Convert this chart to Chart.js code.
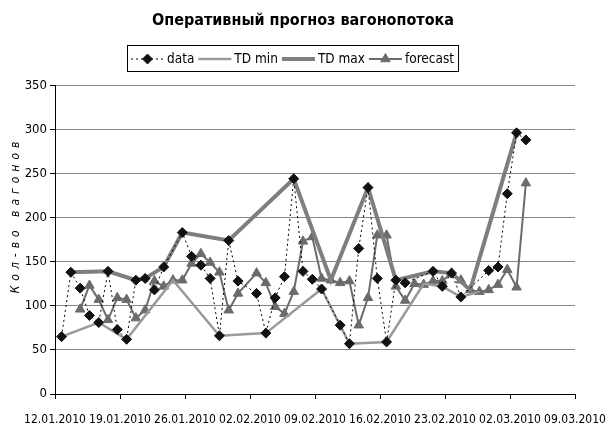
<!DOCTYPE html>
<html>
<head>
<meta charset="utf-8">
<script src="https://cdn.jsdelivr.net/npm/chart.js@4"></script>
<style>
  body { margin: 0; background: #fff; }
  #wrap { width: 606px; height: 432px; }
</style>
</head>
<body>
<div id="wrap"><canvas id="chart" width="606" height="432"></canvas></div>
<script>
// days counted from 12.01.2010, readings taken late in the day (~17:00)
const START = new Date(2010, 0, 12);
const TIME_OF_DAY = 17 / 24;

const dataDays = [0,1,2,3,4,5,6,7,8,9,10,11,13,14,15,16,17,18,19,21,22,23,24,25,26,27,28,30,31,32,33,34,35,36,37,40,41,42,43,46,47,48,49,50];
const dataValues = [65,138,120,89,81,139,73,62,129,131,118,144,183,156,146,131,66,174,128,114,69,109,133,244,139,130,119,78,57,165,234,131,59,129,126,139,122,137,110,140,144,227,296,288];

const minDays = [0,4,7,12,17,22,28,31,35,39,41,43,45];
const minValues = [65,81,62,129,66,69,119,57,59,125,122,110,116];

const maxDays = [1,5,8,9,11,13,18,25,29,33,36,40,42,44,49];
const maxValues = [138,139,129,131,144,183,174,244,129,234,129,139,137,118,296];

const forecastDays = [2,3,4,5,6,7,8,9,10,11,12,13,14,15,16,17,18,19,21,22,23,24,25,26,27,28,29,30,31,32,33,34,35,36,37,38,39,40,41,42,43,44,45,46,47,48,49,50];
const forecastValues = [96,123,107,84,109,107,86,95,128,122,129,129,148,159,149,138,95,114,137,126,99,91,116,173,178,131,129,126,128,78,109,180,180,122,106,125,124,128,128,137,129,118,116,118,124,141,121,239];

const seriesNames = ["data", "TD min", "TD max", "forecast"];
const xMin = 0, xMax = 56, xStep = 7;
const yMin = 0, yMax = 350, yStep = 50;

const FONT = "'DejaVu Sans Condensed', 'Liberation Sans Narrow', 'Arial Narrow', sans-serif";

function points(days, values) {
    return days.map((d, i) => ({ x: d + TIME_OF_DAY, y: values[i] }));
}

function fmtDate(day) {
    const d = new Date(START.getTime() + day * 86400000);
    const dd = String(d.getDate()).padStart(2, "0");
    const mm = String(d.getMonth() + 1).padStart(2, "0");
    return dd + "." + mm + "." + d.getFullYear();
}

// legend in a framed box under the title, like the original
const boxLegend = {
    id: "boxLegend",
    afterDraw(chart) {
        const ctx = chart.ctx;
        const sets = chart.data.datasets;
        ctx.save();
        ctx.font = "13.5px " + FONT;
        ctx.textBaseline = "middle";
        const sample = 33, gap = 3, after = 4;
        let total = 4;
        sets.forEach(s => { total += sample + gap + ctx.measureText(s.label).width + after; });
        const left = 127, top = 45, h = 26;
        ctx.strokeStyle = "#000";
        ctx.lineWidth = 1;
        ctx.strokeRect(left + 0.5, top + 0.5, total, h);
        let x = left + 4;
        const cy = top + h / 2 + 1;
        sets.forEach(s => {
            ctx.strokeStyle = s.borderColor;
            ctx.lineWidth = s.borderWidth;
            ctx.setLineDash(s.borderDash || []);
            ctx.beginPath();
            ctx.moveTo(x, cy);
            ctx.lineTo(x + sample, cy);
            ctx.stroke();
            ctx.setLineDash([]);
            if (s.pointStyle && s.pointRadius > 0) {
                ctx.fillStyle = s.pointBackgroundColor;
                ctx.strokeStyle = s.pointBorderColor;
                ctx.lineWidth = 1;
                Chart.helpers.drawPoint(ctx, {
                    pointStyle: s.pointStyle,
                    radius: s.pointRadius,
                    borderWidth: 1
                }, x + sample / 2, cy);
            }
            x += sample + gap;
            ctx.fillStyle = "#000";
            ctx.fillText(s.label, x, cy);
            x += ctx.measureText(s.label).width + after;
        });
        ctx.restore();
    }
};

// rotated, spaced-out axis caption
const yCaption = {
    id: "yCaption",
    afterDraw(chart) {
        const ctx = chart.ctx;
        ctx.save();
        ctx.translate(16, 215);
        ctx.rotate(-Math.PI / 2);
        ctx.font = "italic 12px 'DejaVu Sans Condensed', 'Liberation Sans', sans-serif";
        ctx.letterSpacing = "5px";
        ctx.textAlign = "center";
        ctx.textBaseline = "middle";
        ctx.fillStyle = "#000";
        ctx.fillText("Кол-во вагонов", 0, 0);
        ctx.restore();
    }
};

new Chart(document.getElementById("chart"), {
    type: "line",
    data: {
        datasets: [
            {
                label: seriesNames[0],
                data: points(dataDays, dataValues),
                borderColor: "#000",
                borderWidth: 1,
                borderDash: [2, 3],
                pointStyle: "rectRot",
                pointRadius: 5,
                pointBackgroundColor: "#111",
                pointBorderColor: "#111",
                pointBorderWidth: 1
            },
            {
                label: seriesNames[1],
                data: points(minDays, minValues),
                borderColor: "#9a9a9a",
                borderWidth: 2.5,
                pointRadius: 0
            },
            {
                label: seriesNames[2],
                data: points(maxDays, maxValues),
                borderColor: "#7e7e7e",
                borderWidth: 4,
                pointRadius: 0
            },
            {
                label: seriesNames[3],
                data: points(forecastDays, forecastValues),
                borderColor: "#6b6b6b",
                borderWidth: 2,
                pointStyle: "triangle",
                pointRadius: 5.5,
                pointBackgroundColor: "#6b6b6b",
                pointBorderColor: "#6b6b6b",
                pointBorderWidth: 1
            }
        ]
    },
    options: {
        responsive: false,
        animation: false,
        events: [],
        layout: { padding: 0 },
        elements: { line: { tension: 0 } },
        plugins: {
            legend: { display: false },
            tooltip: { enabled: false },
            title: {
                display: true,
                text: "Оперативный прогноз вагонопотока",
                color: "#000",
                font: { family: FONT, size: 16, weight: "bold" },
                padding: { top: 11, bottom: 55 }
            }
        },
        scales: {
            x: {
                type: "linear",
                min: xMin,
                max: xMax,
                afterFit: s => { s.height = 38; s.paddingLeft = 0; s.paddingRight = 0; },
                afterBuildTicks: s => {
                    s.ticks = [];
                    for (let v = xMin; v <= xMax; v += xStep) s.ticks.push({ value: v });
                },
                ticks: {
                    color: "#000",
                    font: { family: FONT, size: 12 },
                    maxRotation: 0,
                    autoSkip: false,
                    padding: 14,
                    callback: v => fmtDate(v)
                },
                grid: { drawOnChartArea: false, tickLength: 5, tickColor: "#000" },
                border: { color: "#000", width: 1 }
            },
            y: {
                min: yMin,
                max: yMax,
                afterFit: s => { s.width = 55; },
                ticks: {
                    stepSize: yStep,
                    color: "#000",
                    font: { family: FONT, size: 13 },
                    padding: 3
                },
                grid: { color: "#868686", tickLength: 5, tickColor: "#000" },
                border: { color: "#000", width: 1 }
            },
            // empty strip on the right so the plot ends where the original does
            spacer: {
                position: "right",
                min: yMin,
                max: yMax,
                afterFit: s => { s.width = 31; },
                ticks: { display: false },
                grid: { display: false },
                border: { display: false }
            }
        }
    },
    plugins: [boxLegend, yCaption]
});
</script>
</body>
</html>
